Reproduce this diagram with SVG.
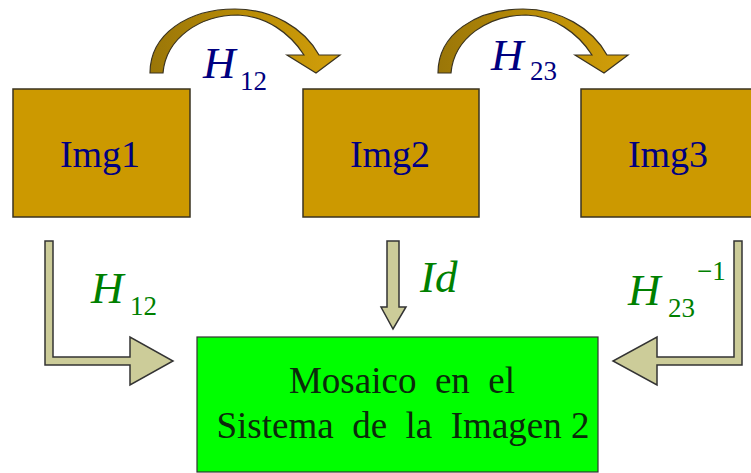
<svg xmlns="http://www.w3.org/2000/svg" width="751" height="473" viewBox="0 0 751 473">
<style>
text{font-family:'Liberation Serif','Tinos','DejaVu Serif','Noto Serif',serif}
.box{fill:#cc9900;stroke:#3a3320;stroke-width:1.5}
.lbl{font-size:38px;fill:#000080;text-anchor:middle}
.hn{font-style:italic;font-size:45px}
.sub{font-size:27px}
.navy{fill:#000080}
.grn{fill:#008000}
.khaki{fill:#cccc99;stroke:#333333;stroke-width:1.5;stroke-linejoin:miter}
.curve{fill:url(#gold);stroke:#3a3320;stroke-width:1.2}
.mos{font-size:37px;fill:#0b2a0b;text-anchor:middle}
</style>
<defs>
<linearGradient id="gold" x1="0" y1="0" x2="1" y2="0">
<stop offset="0" stop-color="#9a7608"/>
<stop offset="0.5" stop-color="#b98c06"/>
<stop offset="1" stop-color="#d29f0a"/>
</linearGradient>
<path id="carrow" d="M150,73 C150,34 188,9 235,9 C272,9 304,28 319,55 L340,55 L316,73 L287,55 L304,55 C290,33 266,16 238,15 C200,15 166,38 163,73 Z"/>
</defs>
<rect width="751" height="473" fill="#ffffff"/>
<g id="connectors">
<use href="#carrow" class="curve"/>
<use href="#carrow" class="curve" transform="translate(288,0)"/>
<path class="khaki" d="M45,241 L53,241 L53,357 L130,357 L130,337 L173,361 L130,385 L130,365 L45,365 Z"/>
<path class="khaki" d="M742,241 L742,365 L657,365 L657,385 L613,361 L657,337 L657,357 L734,357 L734,241 Z"/>
<path class="khaki" d="M387,241 L399,241 L399,307 L406,307 L393,329 L381,307 L387,307 Z"/>
<text class="hn navy" x="203" y="78" font-family="Liberation Serif">H</text>
<text class="sub navy" x="240" y="90" font-family="Liberation Serif">12</text>
<text class="hn navy" x="491" y="70" font-family="Liberation Serif">H</text>
<text class="sub navy" x="530" y="80" font-family="Liberation Serif">23</text>
<text class="hn grn" x="91" y="303" font-family="Liberation Serif">H</text>
<text class="sub grn" x="130" y="315" font-family="Liberation Serif">12</text>
<text class="hn grn" x="420" y="292" font-family="Liberation Serif">Id</text>
<text class="hn grn" x="628" y="305" font-family="Liberation Serif">H</text>
<text class="sub grn" x="668" y="317" font-family="Liberation Serif">23</text>
<text class="sub grn" x="697" y="280" font-family="Liberation Serif">−1</text>
</g>
<g id="img1">
<rect class="box" x="13" y="89" width="177" height="128"/>
<text class="lbl" x="100" y="167" font-family="Liberation Serif">Img1</text>
</g>
<g id="img2">
<rect class="box" x="303" y="89" width="176" height="128"/>
<text class="lbl" x="390" y="167" font-family="Liberation Serif">Img2</text>
</g>
<g id="img3">
<rect class="box" x="581" y="89" width="180" height="128"/>
<text class="lbl" x="668" y="167" font-family="Liberation Serif">Img3</text>
</g>
<g id="mosaico">
<rect x="197" y="337" width="401" height="135" fill="#00ff00" stroke="#333333" stroke-width="1.2"/>
<text class="mos" x="402" y="393" xml:space="preserve" font-family="Liberation Serif">Mosaico  en  el</text>
<text class="mos" x="403" y="438" xml:space="preserve" font-family="Liberation Serif">Sistema  de  la  Imagen 2</text>
</g>
</svg>
